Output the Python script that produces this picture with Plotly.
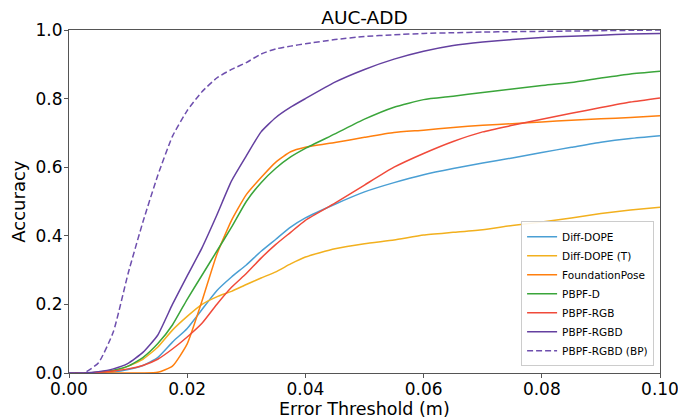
import plotly.graph_objects as go

# error thresholds (m)
thresholds = [0, 0.0025, 0.005, 0.0075, 0.01, 0.0125, 0.015, 0.0175, 0.02, 0.0225,
              0.025, 0.0275, 0.03, 0.0325, 0.035, 0.0375, 0.04, 0.045, 0.05, 0.055,
              0.06, 0.065, 0.07, 0.075, 0.08, 0.085, 0.09, 0.095, 0.1]

diff_dope = [0, 0, 0.001, 0.003, 0.01, 0.022, 0.045, 0.09, 0.13, 0.185,
             0.24, 0.28, 0.315, 0.355, 0.39, 0.425, 0.452, 0.492, 0.528, 0.555,
             0.578, 0.596, 0.612, 0.627, 0.643, 0.658, 0.673, 0.684, 0.692]
diff_dope_t = [0, 0, 0.001, 0.005, 0.02, 0.04, 0.075, 0.125, 0.165, 0.2,
               0.222, 0.238, 0.258, 0.277, 0.295, 0.318, 0.338, 0.362, 0.377, 0.388,
               0.402, 0.41, 0.418, 0.43, 0.44, 0.452, 0.465, 0.475, 0.483]
foundation_pose = [0, 0, 0, 0, 0, 0, 0.002, 0.02, 0.085, 0.21,
                   0.345, 0.445, 0.52, 0.57, 0.615, 0.645, 0.658, 0.672, 0.687, 0.701,
                   0.708, 0.716, 0.722, 0.727, 0.732, 0.737, 0.741, 0.745, 0.75]
pbpf_d = [0, 0, 0.002, 0.008, 0.02, 0.045, 0.085, 0.14, 0.215, 0.285,
          0.355, 0.425, 0.5, 0.555, 0.597, 0.63, 0.655, 0.697, 0.74, 0.775,
          0.797, 0.807, 0.818, 0.828, 0.838, 0.847, 0.86, 0.872, 0.88]
pbpf_rgb = [0, 0, 0.002, 0.006, 0.012, 0.022, 0.04, 0.07, 0.105, 0.145,
            0.2, 0.25, 0.29, 0.335, 0.375, 0.41, 0.445, 0.495, 0.548, 0.6,
            0.64, 0.675, 0.703, 0.722, 0.74, 0.757, 0.774, 0.79, 0.802]
pbpf_rgbd = [0, 0, 0.004, 0.012, 0.028, 0.06, 0.11, 0.2, 0.283, 0.365,
             0.46, 0.56, 0.633, 0.703, 0.745, 0.775, 0.8, 0.848, 0.885, 0.915,
             0.938, 0.955, 0.965, 0.972, 0.978, 0.982, 0.985, 0.988, 0.99]
pbpf_rgbd_bp = [0, 0, 0.03, 0.12, 0.29, 0.44, 0.575, 0.69, 0.765, 0.82,
                0.86, 0.885, 0.905, 0.93, 0.945, 0.953, 0.96, 0.972, 0.981, 0.986,
                0.99, 0.992, 0.994, 0.995, 0.996, 0.997, 0.998, 0.999, 1.0]

series = [
    ("Diff-DOPE", diff_dope, "#4a9fd4", "solid"),
    ("Diff-DOPE (T)", diff_dope_t, "#f2b01e", "solid"),
    ("FoundationPose", foundation_pose, "#ff7f0e", "solid"),
    ("PBPF-D", pbpf_d, "#3aa53a", "solid"),
    ("PBPF-RGB", pbpf_rgb, "#f04a3a", "solid"),
    ("PBPF-RGBD", pbpf_rgbd, "#6440a0", "solid"),
    ("PBPF-RGBD (BP)", pbpf_rgbd_bp, "#6e4fae", "6px,3px"),
]

fig = go.Figure()
for name, vals, color, dash in series:
    fig.add_trace(go.Scatter(x=thresholds, y=vals, mode="lines", name=name,
                             line=dict(color=color, width=1.5, dash=dash,
                                       shape="spline", smoothing=0.5)))

axis_common = dict(showline=True, linecolor="#555", linewidth=1, mirror=True,
                   ticks="outside", ticklen=4, tickcolor="#555", showgrid=False,
                   zeroline=False, automargin=False, ticklabeloverflow="allow",
                   tickfont=dict(size=17, color="black"))

fig.update_layout(
    width=678, height=420,
    margin=dict(l=69, r=18, t=30, b=47),
    paper_bgcolor="white", plot_bgcolor="white",
    font=dict(family="DejaVu Sans", color="black"),
    title=dict(text="AUC-ADD", x=0.5, xanchor="center", xref="paper",
               y=0.958, yanchor="middle", font=dict(size=18.5)),
    xaxis=dict(range=[0, 0.1], tickvals=[0, 0.02, 0.04, 0.06, 0.08, 0.1],
               tickformat=".2f", ticklabelstandoff=-3, **axis_common),
    yaxis=dict(range=[0, 1.0], tickvals=[0, 0.2, 0.4, 0.6, 0.8, 1.0],
               tickformat=".1f", ticklabelstandoff=-2, **axis_common),
    legend=dict(x=0.99, y=0.02, xanchor="right", yanchor="bottom",
                bordercolor="#ccc", borderwidth=1, bgcolor="rgba(255,255,255,0.9)",
                font=dict(size=10.5), tracegroupgap=0, itemwidth=30),
    showlegend=True,
)

# axis titles placed by hand so they sit where the reference has them
fig.add_annotation(text="Error Threshold (m)", xref="paper", yref="paper",
                   x=0.5, y=-0.106, xanchor="center", yanchor="middle",
                   showarrow=False, font=dict(size=17.5))
fig.add_annotation(text="Accuracy", xref="paper", yref="paper",
                   x=-0.086, y=0.5, xanchor="center", yanchor="middle",
                   textangle=-90, showarrow=False, font=dict(size=18))

fig.write_html("out.html", config={"displayModeBar": False},
               post_script="document.body.style.margin='0';")
